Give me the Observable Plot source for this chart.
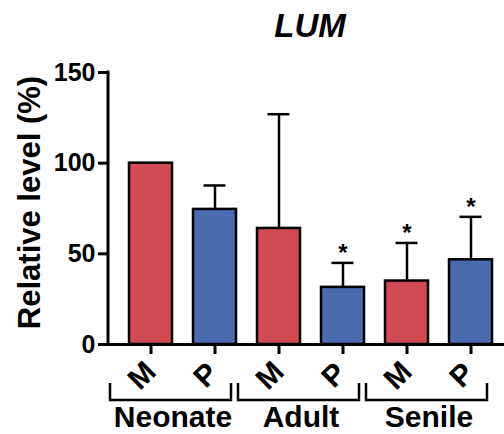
<!DOCTYPE html>
<html><head><meta charset="utf-8">
<script src="https://cdn.jsdelivr.net/npm/d3@7"></script>
<script src="https://cdn.jsdelivr.net/npm/@observablehq/plot@0.6"></script>
<style>
body{margin:0;background:#fff;}
#title{box-sizing:border-box;height:48px;width:504px;padding-top:10px;padding-left:116px;text-align:center;
font-family:"Liberation Sans",Arial,sans-serif;font-style:italic;font-weight:bold;font-size:33px;line-height:32px;color:#000;}
</style></head><body>
<div id="title">LUM</div>
<div id="chart"></div>
<script>
const groups = ["Neonate", "Adult", "Senile"];
const conditions = ["M", "P"];
const means = [100, 74.5, 64, 31.5, 35, 46.7];
const errors = [0, 13.2, 63, 13.5, 21, 23.7];
const significant = [false, false, false, true, true, true];
const yTicks = [0, 50, 100, 150];
const yLabel = "Relative level (%)";
const condColors = ["#cf4a53", "#4b6bb1"];

const rows = means.map((m, i) => {
  const group = groups[Math.floor(i / 2)];
  const cond = conditions[i % 2];
  return {group, cond, key: group + " " + cond, mean: m, err: errors[i], upper: m + errors[i], sig: significant[i]};
});
const keys = rows.map(d => d.key);
const errRows = rows.filter(d => d.err > 0);
const sigRows = rows.filter(d => d.sig);
const groupRows = groups.map(g => ({group: g, mKey: g + " M", pKey: g + " P"}));

function annotations(index, scales, values, dimensions) {
  const x = scales.x, y = scales.y;
  const bw = typeof x.bandwidth === "function" ? x.bandwidth() : (x.bandwidth || 0);
  const g = d3.create("svg:g").attr("fill", "none").attr("stroke", "black");
  g.append("line").attr("stroke-width", 3)
    .attr("x1", dimensions.marginLeft).attr("x2", dimensions.marginLeft)
    .attr("y1", y(yTicks[yTicks.length - 1]) - 1.5).attr("y2", y(0) + 1.5);
  const y0 = y(0);
  for (const d of groupRows) {
    const left = x(d.mKey) - 19;
    const right = x(d.pKey) + bw - 5;
    g.append("path").attr("stroke-width", 2.5)
      .attr("d", `M${left},${y0 + 39}V${y0 + 56}H${right}V${y0 + 39}`);
  }
  return g.node();
}

const chart = Plot.plot({
  width: 504,
  height: 386,
  marginLeft: 108,
  marginRight: 0,
  marginTop: 24,
  marginBottom: 90,
  style: {fontFamily: "'Liberation Sans', Arial, sans-serif", background: "white", color: "black"},
  x: {type: "band", domain: keys, range: [128.5, 492.5], paddingInner: 0.33, paddingOuter: 0, axis: null},
  y: {domain: [0, 150], axis: null},
  color: {domain: conditions, range: condColors},
  marks: [
    Plot.barY(rows, {x: "key", y: "mean", fill: "cond", stroke: "black", strokeWidth: 2.5}),
    Plot.ruleX(errRows, {x: "key", y1: "mean", y2: "upper", stroke: "black", strokeWidth: 2.5}),
    Plot.tickY(errRows, {x: "key", y: "upper", stroke: "black", strokeWidth: 2.5, insetLeft: 10.5, insetRight: 10.5}),
    Plot.text(sigRows, {x: "key", y: "upper", text: () => "*", fontSize: 24, fontWeight: "bold", lineAnchor: "bottom", dy: -2}),
    Plot.ruleY([0], {stroke: "black", strokeWidth: 3}),
    Plot.axisY({ticks: yTicks, tickSize: 10, tickPadding: 3, fontSize: 25, fontWeight: "bold", strokeWidth: 3, label: null}),
    Plot.axisX({tickSize: 10, tickFormat: () => "", strokeWidth: 3, label: null}),
    Plot.text([yLabel], {frameAnchor: "left", text: d => d, rotate: -90, dx: -78, dy: -6, fontSize: 31, fontWeight: "bold", textAnchor: "middle", lineAnchor: "middle"}),
    Plot.text(rows, {x: "key", y: 0, text: "cond", rotate: -45, dx: -9, dy: 31, fontSize: 30, fontWeight: "bold", textAnchor: "middle", lineAnchor: "middle"}),
    Plot.text(groupRows, {x: "pKey", y: 0, text: "group", dx: -42, dy: 73, fontSize: 30, fontWeight: "bold", lineAnchor: "middle"}),
    annotations
  ]
});
document.getElementById("chart").appendChild(chart);
</script>
</body></html>
